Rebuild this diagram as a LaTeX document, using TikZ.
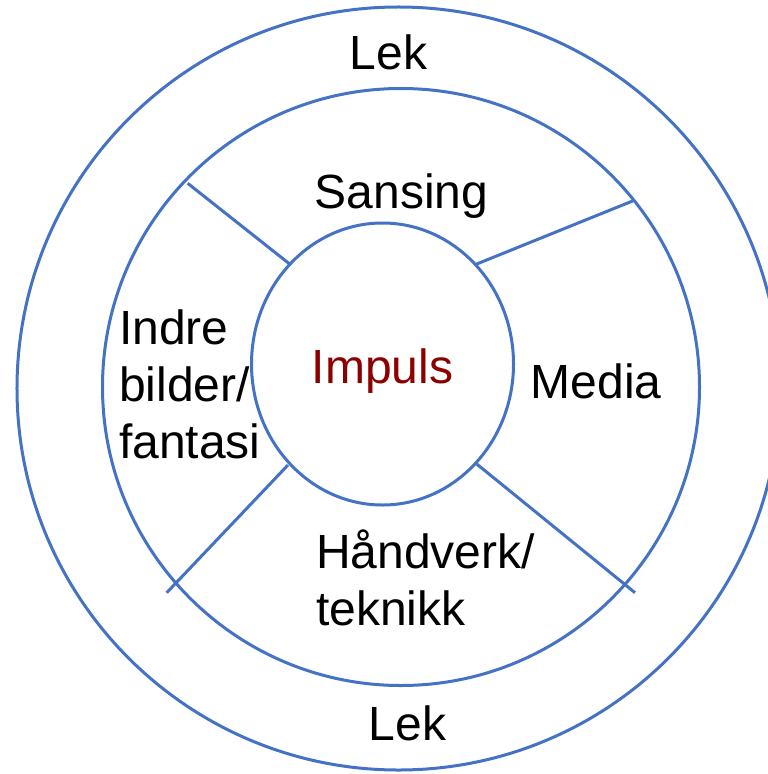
\documentclass[tikz,border=0pt]{standalone}
\usepackage{fontspec}
\setmainfont{Liberation Sans}
\usetikzlibrary{shapes.geometric}
\definecolor{ringblue}{RGB}{68,114,196}
\definecolor{impred}{RGB}{140,0,0}
\tikzset{
  ring/.style={draw=ringblue, line width=3bp},
  spoke/.style={draw=ringblue, line width=3bp},
  lbl/.style={font=\fontsize{48bp}{57bp}\selectfont, inner sep=0pt, text=black},
}
\begin{document}
\begin{tikzpicture}[x=1bp,y=-1bp]
\useasboundingbox (0,0) rectangle (768,774);
\clip (0,0) rectangle (768,774);
% rings
\node[ring, circle, minimum size=763bp, inner sep=0pt] (outer) at (398.5,388.5) {};
\node[ring, circle, minimum size=597bp, inner sep=0pt] (middle) at (401,387) {};
\node[ring, ellipse, minimum width=262bp, minimum height=282bp, inner sep=0pt] (inner) at (382.5,364) {};
% spoke ends
\coordinate (a1) at (290,264.3);   \coordinate (b1) at (187.7,183.3);
\coordinate (a2) at (476,264.3);   \coordinate (b2) at (633.3,200.7);
\coordinate (a3) at (288,465);     \coordinate (b3) at (166.7,592.7);
\coordinate (a4) at (476.7,464);   \coordinate (b4) at (635,592.7);
\draw[spoke] (a1) -- (b1);
\draw[spoke] (a2) -- (b2);
\draw[spoke] (a3) -- (b3);
\draw[spoke] (a4) -- (b4);
% labels
\node[lbl, anchor=base] (lektop) at (388.5,70) {Lek};
\node[lbl, anchor=base] (lekbot) at (407.5,740) {Lek};
\node[lbl, anchor=base] (sansing) at (401.5,208) {Sansing};
\node[lbl, anchor=base] (media) at (596,398) {Media};
\node[lbl, anchor=base, text=impred] (impuls) at (382.5,383) {Impuls};
\node[lbl, anchor=base west, align=left] (indre) at (119,458) {Indre\\bilder/\\fantasi};
\node[lbl, anchor=base west, align=left] (hand) at (316,625) {Håndverk/\\teknikk};
\end{tikzpicture}
\end{document}
